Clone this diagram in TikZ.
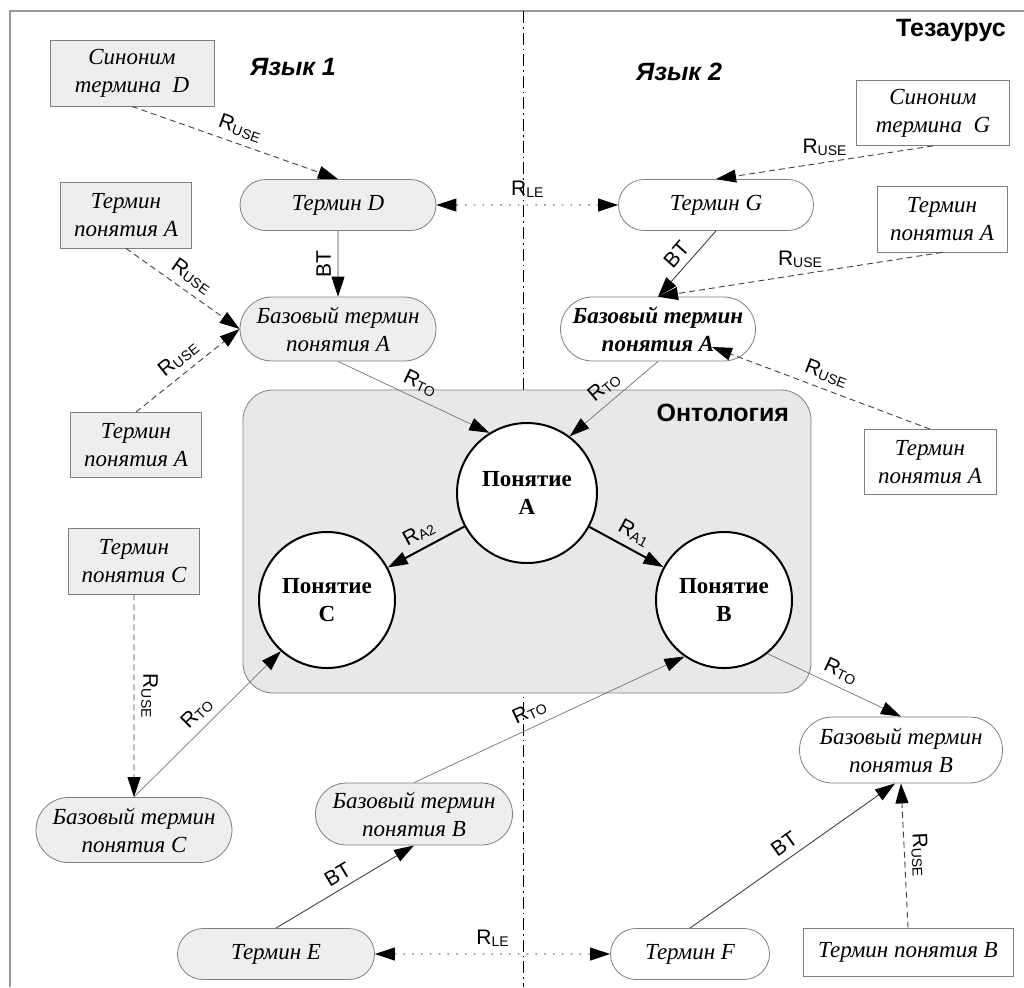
\documentclass[tikz,border=0pt]{standalone}
\usepackage{fontspec}
\setmainfont{Liberation Serif}
\setsansfont{Liberation Sans}
\usetikzlibrary{arrows.meta,shapes.misc}
\definecolor{boxgray}{HTML}{EEEEEE}
\definecolor{ontogray}{HTML}{E8E8E8}
\definecolor{edgegray}{HTML}{7F7F7F}
\newcommand{\rsub}[2]{#1\raisebox{-1pt}{\fontsize{7}{7}\selectfont #2}}

\begin{document}
\begin{tikzpicture}[x=0.5pt,y=0.5pt,
		termnode/.style={draw=edgegray,fill=white,align=center,inner sep=2pt,
			font=\fontsize{11.5}{14}\selectfont\itshape},
		termbox/.style={termnode,rectangle},
		termpill/.style={termnode,rounded rectangle},
		greyfill/.style={fill=boxgray},
		concept/.style={circle,draw,line width=1pt,fill=white,align=center,
			font=\fontsize{11.5}{14}\selectfont\bfseries},
		rlabel/.style={font=\sffamily\fontsize{10.5}{12}\selectfont},
		head/.style={font=\sffamily\bfseries\fontsize{12.5}{15}\selectfont},
		btlink/.style={draw=black!75,line width=0.45pt,-{Triangle[length=10pt,width=6.5pt,color=black]}},
		tolink/.style={btlink,draw=black!55,line width=0.35pt},
		uselink/.style={btlink,dash pattern=on 3pt off 2pt},
		lelink/.style={btlink,draw=black,{Triangle[length=10pt,width=6.5pt]}-{Triangle[length=10pt,width=6.5pt]},
			dash pattern=on 0.8pt off 3.6pt},
		alink/.style={draw=black,line width=1pt,-{Triangle[length=10pt,width=6.5pt]}}]
	\useasboundingbox (0,0) rectangle (1024,-987);
	% frame and border between the two languages
	\draw[black!40,line width=1pt] (10,-987) -- (10,-11) -- (1024,-11);
	\draw[line width=0.4pt,dash pattern=on 6pt off 2pt on 0.8pt off 2pt] (523,-11) -- (523,-987);
	\node[head] (thes) at (951,-30) {Тезаурус};
	\node[head,font=\sffamily\bfseries\itshape\fontsize{12.5}{15}\selectfont] (lang1) at (293,-67) {Язык 1};
	\node[head,font=\sffamily\bfseries\itshape\fontsize{12.5}{15}\selectfont] (lang2) at (679,-72) {Язык 2};

	% ontology
	\draw[edgegray,fill=ontogray,rounded corners=15pt] (243,-390) rectangle (811,-693);
	\node[head,anchor=east] (onto) at (796,-413) {Онтология};
	\node[concept,minimum size=70pt] (pA) at (527,-493) {Понятие\\A};
	\node[concept,minimum size=68pt] (pC) at (327,-600) {Понятие\\C};
	\node[concept,minimum size=68pt] (pB) at (724,-600) {Понятие\\B};

	% language 1
	\node[termbox,greyfill,minimum width=82pt,minimum height=33pt] (synD) at (132,-73) {Синоним\\термина~~D};
	\node[termbox,greyfill,minimum width=65.5pt,minimum height=33pt] (tA1) at (126,-215) {Термин\\понятия A};
	\node[termbox,greyfill,minimum width=65.5pt,minimum height=32.5pt] (tA2) at (136,-445) {Термин\\понятия A};
	\node[termbox,greyfill,minimum width=65.5pt,minimum height=33pt] (tC) at (134,-561) {Термин\\понятия C};
	\node[termpill,greyfill,minimum width=102pt,minimum height=25.5pt] (tD) at (338,-205) {Термин D};
	\node[termpill,greyfill,minimum width=102pt,minimum height=32pt] (bA1) at (338,-329) {Базовый термин\\понятия A};
	\node[termpill,greyfill,minimum width=102pt,minimum height=32.5pt] (bC) at (134,-830) {Базовый термин\\понятия C};
	\node[termpill,greyfill,minimum width=102.5pt,minimum height=31pt] (bB1) at (414,-814) {Базовый термин\\понятия B};
	\node[termpill,greyfill,minimum width=102.5pt,minimum height=25.5pt] (tE) at (276,-954) {Термин E};

	% language 2
	\node[termbox,minimum width=76.5pt,minimum height=32.5pt] (synG) at (933,-113) {Синоним\\термина~~G};
	\node[termbox,minimum width=65pt,minimum height=33pt] (tA3) at (942,-219) {Термин\\понятия A};
	\node[termbox,minimum width=66pt,minimum height=32.5pt] (tA4) at (930,-462) {Термин\\понятия A};
	\node[termbox,minimum width=105pt,minimum height=24pt] (tB) at (908,-952) {Термин понятия B};
	\node[termpill,minimum width=101.5pt,minimum height=25.5pt] (tG) at (716,-205) {Термин G};
	\node[termpill,minimum width=101.5pt,minimum height=32pt,font=\fontsize{11.5}{14}\selectfont\bfseries\itshape] (bA2) at (658,-329) {Базовый термин\\понятия A};
	\node[termpill,minimum width=105.5pt,minimum height=33pt] (bB2) at (901,-750) {Базовый термин\\понятия B};
	\node[termpill,minimum width=83.5pt,minimum height=25.5pt] (tF) at (690,-954) {Термин F};

	% relations
	\draw[uselink] (synD.south) -- node[rlabel,sloped,above] {\rsub{R}{USE}} (tD.north);
	\draw[uselink] (tA1.south) -- node[rlabel,sloped,above] {\rsub{R}{USE}} (bA1.west);
	\draw[uselink] (tA2.north) -- node[rlabel,sloped,above] {\rsub{R}{USE}} (bA1.west);
	\draw[btlink] (tD) -- node[rlabel,rotate=90,anchor=south] {BT} (bA1);
	\draw[lelink] (tD) -- node[rlabel,above] {\rsub{R}{LE}} (tG);
	\draw[uselink] (synG.south) -- node[rlabel,above] {\rsub{R}{USE}} (tG.north);
	\draw[btlink] (tG.south) -- node[rlabel,sloped,above] {BT} (bA2.north);
	\draw[uselink] (tA3.south) -- node[rlabel,above] {\rsub{R}{USE}} (bA2.north);
	\draw[uselink] (tA4.north) -- node[rlabel,sloped,above] {\rsub{R}{USE}} ([shift={(54,-18)}]bA2.center);
	\draw[tolink] (bA1.south) -- node[rlabel,sloped,above] {\rsub{R}{TO}} (pA.122);
	\draw[tolink] (bA2.south) -- node[rlabel,sloped,above] {\rsub{R}{TO}} (pA.53);
	\draw[alink] (pA) -- node[rlabel,sloped,above] {\rsub{R}{A2}} (pC);
	\draw[alink] (pA) -- node[rlabel,sloped,above] {\rsub{R}{A1}} (pB);
	\draw[uselink] (tC) -- node[rlabel,sloped,above] {\rsub{R}{USE}} (bC);
	\draw[tolink] (bC.north) -- node[rlabel,sloped,above] {\rsub{R}{TO}} (pC.228);
	\draw[tolink] (bB1.north) -- node[rlabel,sloped,above,pos=0.45] {\rsub{R}{TO}} (pB.235);
	\draw[tolink] (pB.-51) -- node[rlabel,sloped,above] {\rsub{R}{TO}} (bB2.north);
	\draw[btlink] (tE.north) -- node[rlabel,sloped,above] {BT} (bB1.south);
	\draw[lelink] (tE) -- node[rlabel,above] {\rsub{R}{LE}} (tF);
	\draw[btlink] (tF.north) -- node[rlabel,sloped,above] {BT} ([xshift=-3pt]bB2.south);
	\draw[uselink] (tB.north) -- node[rlabel,sloped,above] {\rsub{R}{USE}} (bB2.south);
\end{tikzpicture}
\end{document}
